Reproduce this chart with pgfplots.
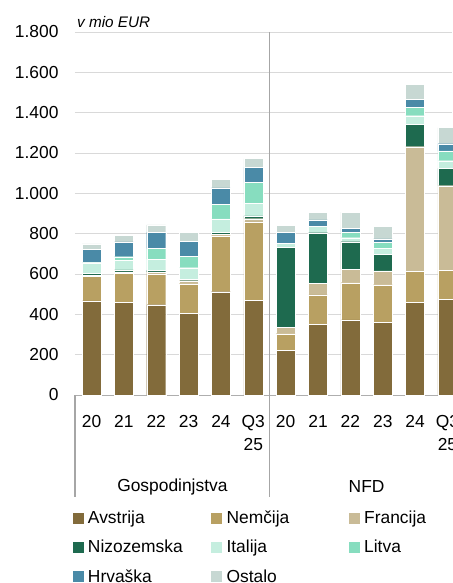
\documentclass[border=0pt]{standalone}
\usepackage{pgfplots}
\usepackage{pgfplotstable}
\pgfplotsset{compat=1.18}
\usepackage{fontspec}
\setmainfont{Liberation Sans}
\definecolor{cAv}{HTML}{826B3B}
\definecolor{cNe}{HTML}{B8A062}
\definecolor{cFr}{HTML}{C9BB97}
\definecolor{cNi}{HTML}{1E6A4F}
\definecolor{cIt}{HTML}{C5EEDF}
\definecolor{cLi}{HTML}{87DDBF}
\definecolor{cHr}{HTML}{4A8AA7}
\definecolor{cOs}{HTML}{C7D8D3}
\definecolor{gridc}{HTML}{D9D9D9}
\definecolor{sepc}{HTML}{A6A6A6}
\newcommand{\fs}{\fontsize{17.4pt}{23.3pt}\selectfont}
\pgfplotstableread{
x Av Ne Fr Ni It Li Hr Os
0 467 120 6 10 53 2 64 27
1 461 142 8 9 49 17 73 33
2 448 150 12 8 56 52 81 36
3 405 147 15 8 56 58 73 46
4 512 278 8 10 65 71 83 44
5 468 391 15 14 64 101 76 43
6 220 84 30 397 21 0 55 34
7 349 148 58 250 30 0 34 38
8 372 185 66 137 20 28 17 82
9 359 188 68 81 30 31 17 64
10 460 152 619 110 44 43 38 73
11 476 142 420 86 38 48 36 80
}\data
\begin{document}
\begin{tikzpicture}
\begin{axis}[name=ax, at={(0,0)}, anchor=south west,
  scale only axis, width=377pt, height=363pt,
  ybar stacked, bar width=19pt,
  xmin=-0.51, xmax=11.14, ymin=0, ymax=1800,
  clip=false,
  axis x line*=bottom, axis y line*=left,
  y axis line style={draw=none},
  x axis line style={draw=gridc!80!black, line width=0.9pt},
  major tick length=0pt,
  ytick={0,200,...,1800},
  ymajorgrids, grid style={draw=gridc, line width=0.9pt},
  /pgf/number format/1000 sep={.},
  /pgf/number format/assume math mode=true,
  tick label style={font=\fs},
  yticklabel style={xshift=-13pt},
  xtick={0,...,11},
  xticklabels={20,21,22,23,24,{Q3\\25},20,21,22,23,24,{Q3\\25}},
  xticklabel style={align=center, yshift=-17pt},
  legend image code/.code={\path[#1, draw=none] (0pt,-5.5pt) rectangle (11pt,5.5pt);},
  legend cell align=left,
  legend style={font=\fs, draw=none, fill=none, inner sep=0pt, outer sep=0pt,
    at={(axis description cs:-0.0061,-0.32)}, anchor=north west,
    legend columns=3, row sep=15pt,
    nodes={inner sep=0pt},
    /tikz/every odd column/.append style={column sep=4.3pt},
    /tikz/column 2/.style={column sep=28.5pt},
    /tikz/column 4/.style={column sep=59.5pt}},
]
\addplot[fill=cAv, draw=white, line width=0.3pt] table[x=x,y=Av]{\data};
\addplot[fill=cNe, draw=white, line width=0.3pt] table[x=x,y=Ne]{\data};
\addplot[fill=cFr, draw=white, line width=0.3pt] table[x=x,y=Fr]{\data};
\addplot[fill=cNi, draw=white, line width=0.3pt] table[x=x,y=Ni]{\data};
\addplot[fill=cIt, draw=white, line width=0.3pt] table[x=x,y=It]{\data};
\addplot[fill=cLi, draw=white, line width=0.3pt] table[x=x,y=Li]{\data};
\addplot[fill=cHr, draw=white, line width=0.3pt] table[x=x,y=Hr]{\data};
\addplot[fill=cOs, draw=white, line width=0.3pt] table[x=x,y=Os]{\data};
\legend{Avstrija,Nem\v{c}ija,Francija,Nizozemska,Italija,Litva,Hrva\v{s}ka,Ostalo}
\draw[sepc, line width=1.2pt] (axis cs:-0.51,0) -- ([yshift=-102pt]axis cs:-0.51,0);
\draw[sepc, line width=1.2pt] (axis cs:5.5,1800) -- ([yshift=-102pt]axis cs:5.5,0);
\node[font=\fs, anchor=center] at ([yshift=-92pt]axis cs:2.5,0) {Gospodinjstva};
\node[font=\fs, anchor=center] at ([yshift=-92pt]axis cs:8.5,0) {NFD};
\node[font=\fontsize{15.3pt}{18pt}\selectfont\itshape, anchor=base west, inner sep=0pt] at ([xshift=2pt,yshift=4.7pt]axis description cs:0,1) {v mio EUR};
\end{axis}
\pgfresetboundingbox
\path[use as bounding box] ([xshift=-75pt,yshift=-188pt]ax.south west) rectangle ([yshift=32pt]ax.north east);
\end{tikzpicture}
\end{document}
